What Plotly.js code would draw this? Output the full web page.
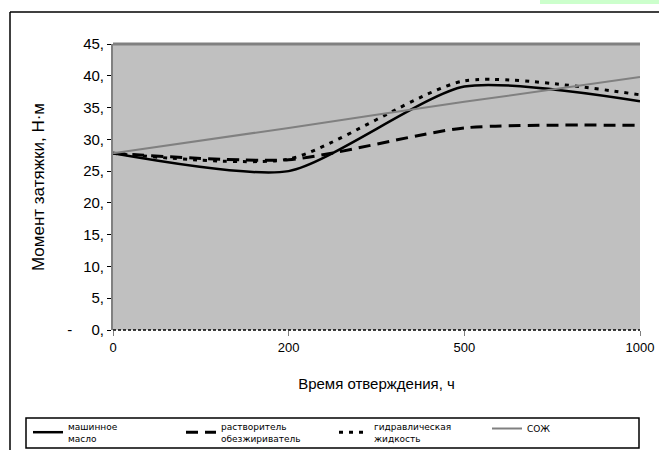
<!DOCTYPE html>
<html><head><meta charset="utf-8">
<script src="https://cdn.plot.ly/plotly-3.0.1.min.js"></script>
<style>html,body{margin:0;padding:0;background:#fff;}#chart{width:659px;height:450px;}</style>
</head><body><div id="chart"></div>
<script>
const categories = ['0', '200', '500', '1000'];
const machineOil = [27.8, 25.0, 38.3, 36.0];
const solventDegreaser = [27.8, 26.8, 31.8, 32.2];
const hydraulicFluid = [27.8, 26.9, 39.2, 37.0];
const coolant = [27.8, 31.8, 35.9, 39.8];
const seriesNames = ['машинное<br>масло', 'растворитель<br>обезжириватель', 'гидравлическая<br>жидкость', 'СОЖ'];
const yTickVals = [0, 5, 10, 15, 20, 25, 30, 35, 40, 45];
const yTickText = ['-\u2003 0,', '5,', '10,', '15,', '20,', '25,', '30,', '35,', '40,', '45,'];

const L = 113, R = 640, T = 44, B = 330, W = 659, H = 450;
const px = v => (v - L) / (R - L);
const py = v => (B - v) / (B - T);

const traces = [
  {x: categories, y: machineOil, name: seriesNames[0], mode: 'lines',
   line: {color: '#000', width: 2.5, shape: 'spline', smoothing: 0.65}},
  {x: categories, y: solventDegreaser, name: seriesNames[1], mode: 'lines',
   line: {color: '#000', width: 3, dash: '12px,7px', shape: 'spline', smoothing: 0.65}},
  {x: categories, y: hydraulicFluid, name: seriesNames[2], mode: 'lines',
   line: {color: '#000', width: 3, dash: '4px,6px', shape: 'spline', smoothing: 0.65}},
  {x: categories, y: coolant, name: seriesNames[3], mode: 'lines',
   line: {color: '#808080', width: 2, shape: 'spline', smoothing: 0.65}}
];

const layout = {
  width: W, height: H,
  margin: {l: L, r: W - R, t: T, b: H - B, autoexpand: false},
  paper_bgcolor: '#ffffff',
  plot_bgcolor: '#c0c0c0',
  font: {family: 'Liberation Sans, Arial, sans-serif', color: '#000'},
  showlegend: true,
  legend: {
    orientation: 'h', xref: 'paper', yref: 'paper',
    x: px(28), y: py(414), xanchor: 'left', yanchor: 'top',
    borderwidth: 0, bgcolor: 'rgba(0,0,0,0)',
    font: {size: 9, family: 'DejaVu Sans, sans-serif'},
    entrywidth: 108, tracegroupgap: 0, itemwidth: 30
  },
  xaxis: {
    type: 'category', range: [0, 3], showgrid: false, zeroline: false,
    ticks: 'outside', ticklen: 5, tickcolor: '#808080', tickwidth: 1,
    showline: false, tickfont: {size: 13},
    title: {text: 'Время отверждения, ч', font: {size: 15}, standoff: 24}
  },
  yaxis: {
    range: [0, 45], tickvals: yTickVals, ticktext: yTickText,
    showgrid: false, zeroline: false,
    ticks: 'outside', ticklen: 4, tickcolor: '#000', tickwidth: 1,
    showline: true, linecolor: '#808080', linewidth: 2,
    tickfont: {size: 15},
    title: {text: 'Момент затяжки, Н·м', font: {size: 17}, standoff: 18}
  },
  shapes: [
    {type: 'line', xref: 'paper', yref: 'paper', x0: 0, x1: 1, y0: 1, y1: 1,
     line: {color: '#808080', width: 3}},
    {type: 'line', xref: 'paper', yref: 'paper', x0: 0, x1: 1, y0: 0, y1: 0,
     line: {color: '#000', width: 1.5, dash: '3px,2px'}},
    {type: 'line', xref: 'paper', yref: 'paper', x0: px(10), x1: px(10), y0: py(12), y1: py(452),
     line: {color: '#000', width: 1.5}},
    {type: 'line', xref: 'paper', yref: 'paper', x0: px(10), x1: px(662), y0: py(12), y1: py(12),
     line: {color: '#000', width: 1.5}},
    {type: 'rect', xref: 'paper', yref: 'paper', x0: px(540), x1: px(662), y0: py(-2), y1: py(4),
     line: {width: 0}, fillcolor: '#ccffcc'},
    {type: 'rect', xref: 'paper', yref: 'paper', layer: 'below', x0: px(26), x1: px(639), y0: py(418), y1: py(448),
     line: {color: '#000', width: 1.5}, fillcolor: '#ffffff'}
  ]
};

Plotly.newPlot('chart', traces, layout, {displayModeBar: false, staticPlot: true});
</script>
</body></html>
